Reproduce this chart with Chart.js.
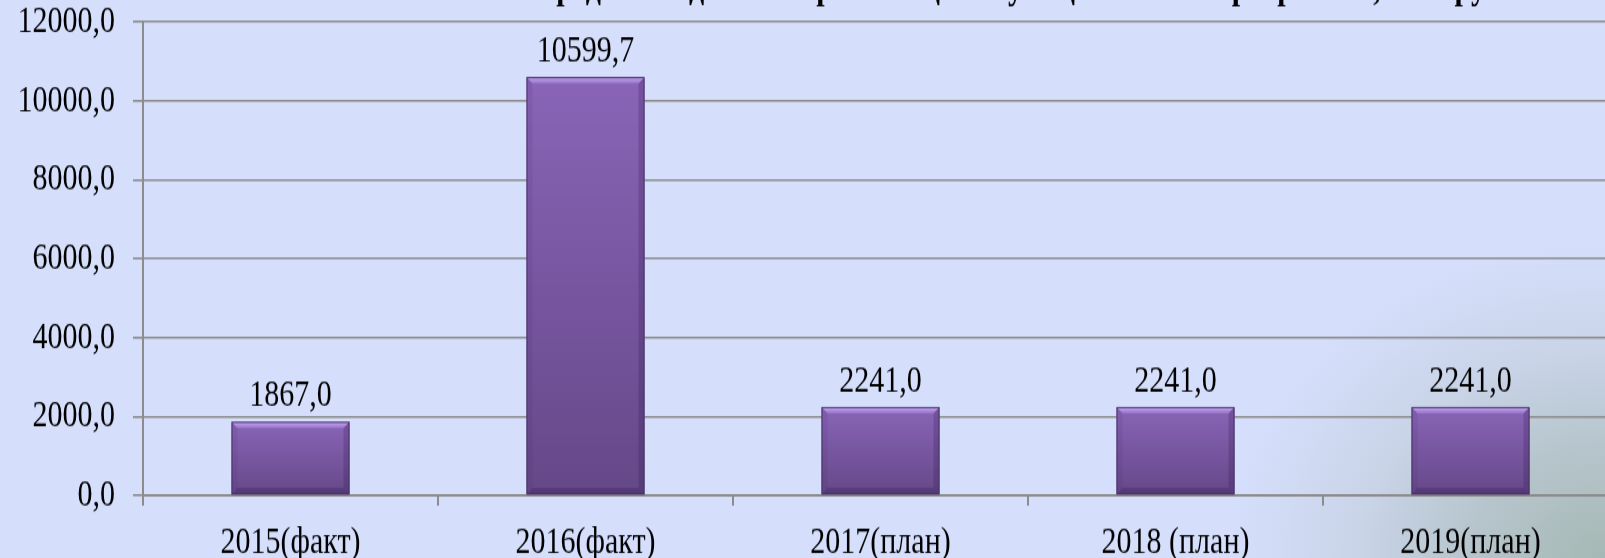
<!DOCTYPE html>
<html><head><meta charset="utf-8">
<script src="https://cdn.jsdelivr.net/npm/chart.js@4.4.0/dist/chart.umd.min.js"></script>
<style>
html,body{margin:0;padding:0;overflow:hidden;width:1605px;height:558px}
body{background-color:#d5dffc;
  background-image:radial-gradient(ellipse 380px 320px at 100% 100%,#a6b8b4 0%,#b6c5cc 35%,#c9d4e8 65%,rgba(213,223,252,0) 100%)}
/* исходный слайд растянут по вертикали — повторяем растяжение */
#wrap{position:relative;width:1618px;height:436px;transform:scaleY(1.28);transform-origin:0 0}
</style></head><body>
<div id="wrap"><canvas id="c"></canvas></div>
<script>
// данные
const TITLE='Объем средств бюджета на реализацию муниципальной программы, тыс. руб.';
const LABELS=['2015(факт)','2016(факт)','2017(план)','2018 (план)','2019(план)'];
const VALUES=[1867.0,10599.7,2241.0,2241.0,2241.0];
const Y_MIN=0,Y_MAX=12000,Y_STEP=2000;

const FONT='"Liberation Serif","Times New Roman",serif';
const gc='#8c8c8c';
const fmt=v=>v.toFixed(1).replace('.',',');

// объёмные грани столбцов
const bevel={id:'bevel',afterDatasetsDraw(ch){
  const ctx=ch.ctx;
  ch.getDatasetMeta(0).data.forEach(b=>{
    const l=b.x-b.width/2,r=b.x+b.width/2,t=b.y,bt=b.base,e=6,ev=5;
    ctx.save();
    ctx.beginPath();ctx.moveTo(l,t);ctx.lineTo(r,t);ctx.lineTo(r-e,t+ev);ctx.lineTo(l+e,t+ev);ctx.closePath();
    const g=ctx.createLinearGradient(0,t,0,t+ev);g.addColorStop(0,'#c8aaf6');g.addColorStop(1,'#9674c8');
    ctx.fillStyle=g;ctx.fill();
    ctx.beginPath();ctx.moveTo(l,t);ctx.lineTo(l+e,t+ev);ctx.lineTo(l+e,bt-ev);ctx.lineTo(l,bt);ctx.closePath();
    ctx.fillStyle='rgba(70,40,110,0.12)';ctx.fill();
    ctx.beginPath();ctx.moveTo(r,t);ctx.lineTo(r-e,t+ev);ctx.lineTo(r-e,bt-ev);ctx.lineTo(r,bt);ctx.closePath();
    ctx.fillStyle='rgba(40,20,70,0.22)';ctx.fill();
    ctx.beginPath();ctx.moveTo(l,bt);ctx.lineTo(l+e,bt-ev);ctx.lineTo(r-e,bt-ev);ctx.lineTo(r,bt);ctx.closePath();
    ctx.fillStyle='rgba(40,20,70,0.28)';ctx.fill();
    ctx.strokeStyle='#4a3268';ctx.lineWidth=1;ctx.strokeRect(l+0.5,t+0.5,b.width-1,bt-t-1);
    ctx.restore();
  });
}};

// подписи значений + обрезанный заголовок
const labels={id:'labels',afterDraw(ch){
  const ctx=ch.ctx;
  ctx.save();
  ctx.fillStyle='#000';ctx.font='30px '+FONT;ctx.textAlign='center';ctx.textBaseline='alphabetic';
  ch.getDatasetMeta(0).data.forEach((b,i)=>ctx.fillText(fmt(VALUES[i]),b.x,b.y-12));
  ctx.font='bold 30px '+FONT;ctx.textAlign='right';
  ctx.fillText(TITLE,1508,-1.5);
  ctx.restore();
}};

new Chart(document.getElementById('c'),{
  type:'bar',
  data:{labels:LABELS,datasets:[{
    data:VALUES,
    backgroundColor:c=>{
      const ch=c.chart,y=ch.scales.y;
      if(!y||!ch.chartArea)return '#7a58a6';
      const t=y.getPixelForValue(VALUES[c.dataIndex]),b=y.getPixelForValue(0);
      const g=ch.ctx.createLinearGradient(0,t,0,b);
      g.addColorStop(0,'#8a65b8');g.addColorStop(1,'#654888');
      return g;
    },
    borderWidth:0,barPercentage:.4,categoryPercentage:1
  }]},
  options:{responsive:true,maintainAspectRatio:false,animation:false,
    layout:{padding:{top:17,left:0,right:0,bottom:0}},
    plugins:{legend:{display:false},tooltip:{enabled:false}},
    scales:{
      x:{grid:{color:gc,lineWidth:2,drawOnChartArea:false,tickLength:8,offset:true},
        border:{color:gc,width:2},
        ticks:{color:'#000',padding:11,font:{family:FONT,size:30}},
        afterFit:s=>{s.height=49}},
      y:{min:Y_MIN,max:Y_MAX,
        grid:{color:gc,lineWidth:1.6,tickLength:10},
        border:{color:gc,width:2},
        ticks:{stepSize:Y_STEP,color:'#000',padding:18,font:{family:FONT,size:30},callback:v=>fmt(v)},
        afterFit:s=>{s.width=143;s.paddingTop=0;s.paddingBottom=0}}
    }},
  plugins:[bevel,labels]
});
</script>
</body></html>
